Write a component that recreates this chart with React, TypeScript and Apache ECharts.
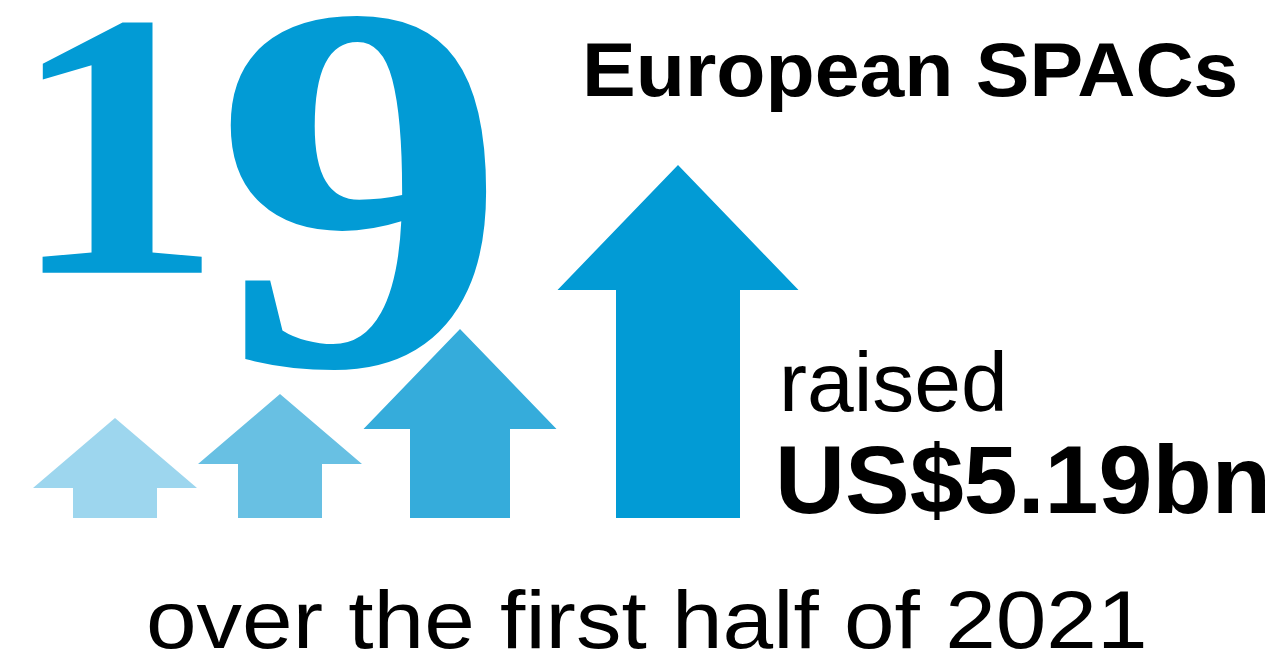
import React, { useEffect, useRef } from "react";
import * as echarts from "echarts";

// Arrow heights (px units on a hidden value axis, baseline = 0)
const arrowNames = ["step 1", "step 2", "step 3", "step 4"];
const arrowValues = [100, 124, 189, 353];

// Text content
const bigNumberFirst = "1";
const bigNumberSecond = "9";
const headline = "European SPACs";
const raisedLabel = "raised";
const amountLabel = "US$5.19bn";
const periodLabel = "over the first half of 2021";

// Layout / style (not data)
const arrowCenters = [115, 280, 460, 678];
const headHalf = [82, 82, 96.5, 120.5];
const shaftHalf = [42, 42, 50, 62];
const headHeight = [70, 70, 100, 125];
const arrowColors = ["#9dd6ee", "#68c0e3", "#35acdb", "#029bd5"];
const BLUE = "#029bd5";
const SANS = '"Liberation Sans", Arial, Helvetica, sans-serif';
const SERIF = '"Liberation Serif", "Times New Roman", serif';

export default function App() {
  const ref = useRef<HTMLDivElement>(null);
  useEffect(() => {
    if (!ref.current) return;
    const chart = echarts.init(ref.current, undefined, { renderer: "svg" });
    const option: any = {
      animation: false,
      backgroundColor: "#ffffff",
      grid: { left: 0, right: 0, top: 0, bottom: 140, containLabel: false },
      xAxis: { type: "value", min: 0, max: 1286, show: false },
      yAxis: { type: "value", min: 0, max: 518, show: false },
      series: [
        {
          type: "custom",
          name: "arrows",
          data: arrowValues.map((v, i) => ({ name: arrowNames[i], value: [arrowCenters[i], v] })),
          renderItem: (params: any, api: any) => {
            const i = params.dataIndex;
            const top = api.coord([api.value(0), api.value(1)]);
            const base = api.coord([api.value(0), 0]);
            const cx = top[0];
            const ty = top[1];
            const hy = ty + headHeight[i];
            const by = base[1];
            const hh = headHalf[i];
            const sh = shaftHalf[i];
            return {
              type: "polygon",
              shape: {
                points: [
                  [cx, ty],
                  [cx + hh, hy],
                  [cx + sh, hy],
                  [cx + sh, by],
                  [cx - sh, by],
                  [cx - sh, hy],
                  [cx - hh, hy],
                ],
              },
              style: { fill: arrowColors[i] },
            };
          },
        },
      ],
      graphic: [
        {
          type: "text",
          x: 116,
          y: 145,
          scaleX: 1.14,
          style: {
            text: bigNumberFirst,
            font: `bold 379px ${SERIF}`,
            lineHeight: 260,
            fill: BLUE,
            textAlign: "center",
            textVerticalAlign: "middle",
          },
        },
        {
          type: "text",
          x: 361,
          y: 187,
          scaleX: 1.11,
          style: {
            text: bigNumberSecond,
            font: `bold 527px ${SERIF}`,
            lineHeight: 350,
            fill: BLUE,
            textAlign: "center",
            textVerticalAlign: "middle",
          },
        },
        {
          type: "text",
          x: 582,
          y: 70,
          scaleX: 1.06,
          style: {
            text: headline,
            font: `bold 76px ${SANS}`,
            lineHeight: 80,
            fill: "#000",
            textAlign: "left",
            textVerticalAlign: "middle",
          },
        },
        {
          type: "text",
          x: 779,
          y: 382,
          style: {
            text: raisedLabel,
            font: `84px ${SANS}`,
            lineHeight: 90,
            fill: "#000",
            textAlign: "left",
            textVerticalAlign: "middle",
          },
        },
        {
          type: "text",
          x: 775,
          y: 479,
          style: {
            text: amountLabel,
            font: `bold 97px ${SANS}`,
            lineHeight: 100,
            fill: "#000",
            textAlign: "left",
            textVerticalAlign: "middle",
          },
        },
        {
          type: "text",
          x: 146,
          y: 620,
          scaleX: 1.11,
          style: {
            text: periodLabel,
            font: `82px ${SANS}`,
            lineHeight: 70,
            fill: "#000",
            textAlign: "left",
            textVerticalAlign: "middle",
          },
        },
      ],
    };
    chart.setOption(option);
    return () => chart.dispose();
  }, []);
  return (
    <div
      ref={ref}
      style={{ position: "fixed", left: 0, top: 0, width: 1286, height: 658, background: "#fff" }}
    />
  );
}
